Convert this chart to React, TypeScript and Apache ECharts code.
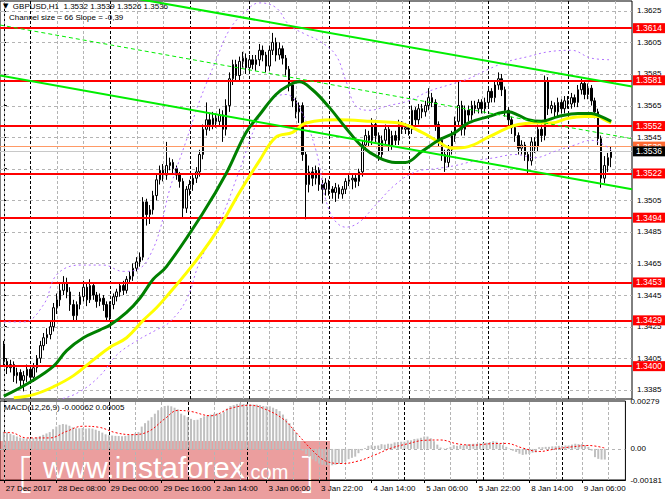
import React, { useEffect, useRef } from "react";
import * as echarts from "echarts";

const FONT = "'Liberation Sans', Arial, sans-serif";

// ---- axis ticks / labels ----
const timeLabelIdx = [0, 16, 32, 48, 64, 80, 96, 112, 128, 144, 160, 176];
const timeLabels = ["27 Dec 2017", "28 Dec 08:00", "29 Dec 00:00", "29 Dec 16:00", "2 Jan 14:00", "3 Jan 06:00", "3 Jan 22:00", "4 Jan 14:00", "5 Jan 06:00", "5 Jan 22:00", "8 Jan 14:00", "9 Jan 06:00"];
const priceTicks = [1.3385, 1.3405, 1.3425, 1.3445, 1.3465, 1.3485, 1.3505, 1.3525, 1.3545, 1.3565, 1.3585, 1.3605, 1.3625];
const priceLabels = [1.3385, 1.3405, 1.3425, 1.3445, 1.3465, 1.3485, 1.3505, 1.3545, 1.3565, 1.3585, 1.3605, 1.3625];
const macdTicks = [-0.00181, 0, 0.00279];
const gridCols = [0, 8, 16, 24, 32, 40, 48, 56, 64, 72, 80, 88, 96, 104, 112, 120, 128, 136, 144, 152, 160, 168, 176, 184];
const daySeparators = [8, 32, 56, 74, 98, 122, 146, 170];

// ---- horizontal levels ----
const levels = [1.3614, 1.3581, 1.3552, 1.3522, 1.3494, 1.3453, 1.3429, 1.3400];
const askPrice = 1.3539;
const bidPrice = 1.3536;

// ---- GBPUSD H1 candles: [open, high, low, close] ----
const candles: number[][] = [
  [1.3413, 1.3416, 1.3400, 1.3403], [1.3403, 1.3405, 1.3395, 1.3399], [1.3399, 1.3404, 1.3396, 1.3401], [1.3401, 1.3403, 1.3390, 1.3394],
  [1.3394, 1.3399, 1.3389, 1.3396], [1.3396, 1.3398, 1.3386, 1.3391], [1.3391, 1.3397, 1.3384, 1.3394], [1.3394, 1.3401, 1.3390, 1.3398],
  [1.3398, 1.3400, 1.3389, 1.3393], [1.3393, 1.3402, 1.3390, 1.3399], [1.3399, 1.3407, 1.3396, 1.3405], [1.3405, 1.3416, 1.3402, 1.3413],
  [1.3413, 1.3421, 1.3410, 1.3418], [1.3418, 1.3424, 1.3414, 1.3420], [1.3420, 1.3428, 1.3417, 1.3425], [1.3425, 1.3440, 1.3422, 1.3437],
  [1.3437, 1.3446, 1.3433, 1.3442], [1.3442, 1.3452, 1.3438, 1.3448], [1.3448, 1.3457, 1.3445, 1.3453], [1.3453, 1.3456, 1.3443, 1.3447],
  [1.3447, 1.3450, 1.3435, 1.3439], [1.3439, 1.3442, 1.3428, 1.3432], [1.3432, 1.3441, 1.3429, 1.3439], [1.3439, 1.3447, 1.3436, 1.3444],
  [1.3444, 1.3454, 1.3441, 1.3450], [1.3450, 1.3452, 1.3438, 1.3442], [1.3442, 1.3455, 1.3440, 1.3451], [1.3451, 1.3453, 1.3442, 1.3445],
  [1.3445, 1.3447, 1.3437, 1.3441], [1.3441, 1.3446, 1.3438, 1.3443], [1.3443, 1.3445, 1.3435, 1.3439], [1.3439, 1.3441, 1.3428, 1.3431],
  [1.3431, 1.3441, 1.3429, 1.3439], [1.3439, 1.3446, 1.3436, 1.3444], [1.3444, 1.3449, 1.3441, 1.3447], [1.3447, 1.3453, 1.3444, 1.3451],
  [1.3451, 1.3454, 1.3445, 1.3448], [1.3448, 1.3457, 1.3446, 1.3455], [1.3455, 1.3460, 1.3452, 1.3457], [1.3457, 1.3465, 1.3454, 1.3462],
  [1.3462, 1.3469, 1.3460, 1.3466], [1.3466, 1.3472, 1.3463, 1.3469], [1.3469, 1.3507, 1.3467, 1.3504], [1.3504, 1.3506, 1.3489, 1.3496],
  [1.3496, 1.3502, 1.3490, 1.3499], [1.3499, 1.3511, 1.3496, 1.3508], [1.3508, 1.3521, 1.3505, 1.3518], [1.3518, 1.3527, 1.3515, 1.3524],
  [1.3524, 1.3528, 1.3517, 1.3521], [1.3521, 1.3542, 1.3518, 1.3527], [1.3527, 1.3532, 1.3524, 1.3529], [1.3529, 1.3531, 1.3522, 1.3525],
  [1.3525, 1.3527, 1.3518, 1.3521], [1.3521, 1.3523, 1.3513, 1.3517], [1.3517, 1.3519, 1.3494, 1.3500], [1.3500, 1.3514, 1.3497, 1.3512],
  [1.3512, 1.3518, 1.3508, 1.3515], [1.3515, 1.3522, 1.3511, 1.3519], [1.3519, 1.3526, 1.3516, 1.3523], [1.3523, 1.3537, 1.3520, 1.3534],
  [1.3534, 1.3553, 1.3531, 1.3550], [1.3550, 1.3567, 1.3546, 1.3556], [1.3556, 1.3560, 1.3549, 1.3553], [1.3553, 1.3561, 1.3550, 1.3557],
  [1.3557, 1.3560, 1.3551, 1.3555], [1.3555, 1.3563, 1.3552, 1.3559], [1.3559, 1.3562, 1.3542, 1.3550], [1.3550, 1.3569, 1.3546, 1.3565],
  [1.3565, 1.3586, 1.3561, 1.3582], [1.3582, 1.3594, 1.3578, 1.3591], [1.3591, 1.3594, 1.3580, 1.3584], [1.3584, 1.3596, 1.3581, 1.3593],
  [1.3593, 1.3599, 1.3589, 1.3595], [1.3595, 1.3598, 1.3585, 1.3589], [1.3589, 1.3597, 1.3586, 1.3594], [1.3594, 1.3597, 1.3588, 1.3591],
  [1.3591, 1.3597, 1.3587, 1.3594], [1.3594, 1.3604, 1.3590, 1.3600], [1.3600, 1.3603, 1.3593, 1.3597], [1.3597, 1.3599, 1.3586, 1.3590],
  [1.3590, 1.3603, 1.3587, 1.3600], [1.3600, 1.3611, 1.3597, 1.3605], [1.3605, 1.3608, 1.3593, 1.3597], [1.3597, 1.3605, 1.3594, 1.3601],
  [1.3601, 1.3603, 1.3591, 1.3595], [1.3595, 1.3597, 1.3584, 1.3588], [1.3588, 1.3590, 1.3574, 1.3578], [1.3578, 1.3581, 1.3564, 1.3568],
  [1.3568, 1.3570, 1.3557, 1.3561], [1.3561, 1.3567, 1.3554, 1.3565], [1.3565, 1.3567, 1.3530, 1.3534], [1.3534, 1.3536, 1.3493, 1.3515],
  [1.3515, 1.3527, 1.3510, 1.3523], [1.3523, 1.3526, 1.3514, 1.3519], [1.3519, 1.3527, 1.3515, 1.3524], [1.3524, 1.3526, 1.3511, 1.3515],
  [1.3515, 1.3518, 1.3503, 1.3512], [1.3512, 1.3519, 1.3508, 1.3516], [1.3516, 1.3518, 1.3508, 1.3512], [1.3512, 1.3514, 1.3506, 1.3510],
  [1.3510, 1.3516, 1.3504, 1.3513], [1.3513, 1.3515, 1.3506, 1.3509], [1.3509, 1.3514, 1.3506, 1.3512], [1.3512, 1.3519, 1.3509, 1.3517],
  [1.3517, 1.3522, 1.3514, 1.3518], [1.3518, 1.3522, 1.3512, 1.3519], [1.3519, 1.3521, 1.3513, 1.3517], [1.3517, 1.3525, 1.3514, 1.3523],
  [1.3523, 1.3543, 1.3520, 1.3540], [1.3540, 1.3550, 1.3537, 1.3546], [1.3546, 1.3549, 1.3539, 1.3543], [1.3543, 1.3557, 1.3540, 1.3553],
  [1.3553, 1.3556, 1.3542, 1.3546], [1.3546, 1.3548, 1.3530, 1.3534], [1.3534, 1.3546, 1.3531, 1.3543], [1.3543, 1.3553, 1.3540, 1.3550],
  [1.3550, 1.3552, 1.3536, 1.3540], [1.3540, 1.3549, 1.3537, 1.3546], [1.3546, 1.3549, 1.3540, 1.3543], [1.3543, 1.3556, 1.3540, 1.3553],
  [1.3553, 1.3555, 1.3547, 1.3550], [1.3550, 1.3554, 1.3547, 1.3551], [1.3551, 1.3553, 1.3546, 1.3550], [1.3550, 1.3565, 1.3547, 1.3562],
  [1.3562, 1.3564, 1.3552, 1.3556], [1.3556, 1.3566, 1.3553, 1.3563], [1.3563, 1.3566, 1.3557, 1.3561], [1.3561, 1.3568, 1.3558, 1.3565],
  [1.3565, 1.3576, 1.3562, 1.3570], [1.3570, 1.3573, 1.3564, 1.3567], [1.3567, 1.3569, 1.3549, 1.3553], [1.3553, 1.3555, 1.3539, 1.3543],
  [1.3543, 1.3545, 1.3530, 1.3534], [1.3534, 1.3537, 1.3523, 1.3529], [1.3529, 1.3540, 1.3526, 1.3537], [1.3537, 1.3549, 1.3534, 1.3546],
  [1.3546, 1.3558, 1.3542, 1.3555], [1.3555, 1.3581, 1.3552, 1.3565], [1.3565, 1.3568, 1.3546, 1.3550], [1.3550, 1.3565, 1.3546, 1.3562],
  [1.3562, 1.3565, 1.3555, 1.3559], [1.3559, 1.3568, 1.3556, 1.3565], [1.3565, 1.3568, 1.3560, 1.3563], [1.3563, 1.3569, 1.3560, 1.3567],
  [1.3567, 1.3569, 1.3560, 1.3563], [1.3563, 1.3570, 1.3560, 1.3567], [1.3567, 1.3577, 1.3564, 1.3574], [1.3574, 1.3576, 1.3567, 1.3570],
  [1.3570, 1.3581, 1.3567, 1.3578], [1.3578, 1.3586, 1.3575, 1.3582], [1.3582, 1.3585, 1.3571, 1.3575], [1.3575, 1.3577, 1.3558, 1.3562],
  [1.3562, 1.3564, 1.3552, 1.3556], [1.3556, 1.3558, 1.3547, 1.3551], [1.3551, 1.3553, 1.3542, 1.3546], [1.3546, 1.3548, 1.3534, 1.3538],
  [1.3538, 1.3543, 1.3534, 1.3540], [1.3540, 1.3542, 1.3530, 1.3534], [1.3534, 1.3536, 1.3521, 1.3530], [1.3530, 1.3545, 1.3527, 1.3542],
  [1.3542, 1.3545, 1.3535, 1.3539], [1.3539, 1.3553, 1.3536, 1.3550], [1.3550, 1.3553, 1.3542, 1.3546], [1.3546, 1.3584, 1.3543, 1.3580],
  [1.3580, 1.3583, 1.3559, 1.3563], [1.3563, 1.3568, 1.3560, 1.3565], [1.3565, 1.3567, 1.3557, 1.3561], [1.3561, 1.3570, 1.3558, 1.3567],
  [1.3567, 1.3569, 1.3560, 1.3563], [1.3563, 1.3571, 1.3560, 1.3568], [1.3568, 1.3571, 1.3563, 1.3566], [1.3566, 1.3573, 1.3563, 1.3570],
  [1.3570, 1.3572, 1.3564, 1.3567], [1.3567, 1.3578, 1.3564, 1.3575], [1.3575, 1.3582, 1.3572, 1.3579], [1.3579, 1.3581, 1.3569, 1.3572],
  [1.3572, 1.3579, 1.3569, 1.3576], [1.3576, 1.3578, 1.3565, 1.3568], [1.3568, 1.3570, 1.3557, 1.3561], [1.3561, 1.3563, 1.3540, 1.3544],
  [1.3544, 1.3546, 1.3513, 1.3519], [1.3519, 1.3533, 1.3516, 1.3527], [1.3527, 1.3535, 1.3523, 1.3532], [1.3532, 1.3539, 1.3526, 1.3536],
];

// ---- moving averages [bar, price] ----
const greenMA = [
  [0, 1.3381], [8, 1.3390], [15, 1.3400], [19, 1.3410], [24, 1.3418], [29, 1.3423], [32, 1.3426], [37, 1.3434], [41, 1.3443],
  [45, 1.3455], [49, 1.3463], [60, 1.3497], [67, 1.3522], [73, 1.3548], [77, 1.3559], [82, 1.3572], [86, 1.3578], [89, 1.3580],
  [93, 1.3575], [98, 1.3564], [103, 1.3551], [108, 1.3539], [113, 1.3532], [118, 1.3529], [121, 1.3529], [126, 1.3536],
  [131, 1.3543], [136, 1.3548], [140, 1.3554], [146, 1.3558], [152, 1.3561], [155, 1.3559], [158, 1.3556], [162, 1.3555],
  [167, 1.3558], [173, 1.3560], [177, 1.3560], [180, 1.3558], [183, 1.3555],
];
const yellowMA = [
  [3, 1.3380], [9, 1.3382], [15, 1.3387], [21, 1.3394], [27, 1.3404], [32, 1.3412], [37, 1.3418], [42, 1.3429], [46, 1.3437],
  [49, 1.3444], [58, 1.3467], [65, 1.3488], [71, 1.3510], [77, 1.3530], [82, 1.3545], [87, 1.3548], [91, 1.3554], [101, 1.3556],
  [111, 1.3555], [119, 1.3554], [126, 1.3548], [131, 1.3542], [135, 1.3538], [140, 1.3539], [146, 1.3545], [152, 1.3551],
  [155, 1.3553], [159, 1.3554], [165, 1.3554], [170, 1.3557], [175, 1.3558], [179, 1.3558], [181, 1.3556], [183, 1.3554],
];

// ---- envelope bands [bar, price] ----
const bandUpper = [
  [0, 1.3428], [6, 1.3428], [12, 1.3439], [16, 1.3458], [23, 1.3464], [30, 1.3464], [36, 1.3460], [41, 1.3462], [44, 1.3470],
  [47, 1.3486], [50, 1.3512], [55, 1.3543], [59, 1.3568], [64, 1.3594], [68, 1.3613], [73, 1.3625], [77, 1.3630], [82, 1.3627],
  [86, 1.3616], [91, 1.3610], [95, 1.3606], [100, 1.3597], [103, 1.3581], [106, 1.3565], [110, 1.3562], [116, 1.3565],
  [122, 1.3568], [128, 1.3574], [134, 1.3578], [140, 1.3582], [146, 1.3588], [152, 1.3593], [158, 1.3596], [164, 1.3599],
  [171, 1.3600], [177, 1.3595], [183, 1.3594],
];
const bandLower = [
  [0, 1.3372], [8, 1.3375], [17, 1.3379], [23, 1.3384], [29, 1.3394], [34, 1.3407], [40, 1.3416], [46, 1.3423], [50, 1.3428],
  [55, 1.3442], [59, 1.3466], [65, 1.3491], [71, 1.3524], [76, 1.3553], [80, 1.3568], [85, 1.3572], [89, 1.3564], [94, 1.3537],
  [98, 1.3499], [103, 1.3488], [107, 1.3491], [112, 1.3502], [118, 1.3515], [124, 1.3523], [130, 1.3525], [136, 1.3527],
  [142, 1.3530], [148, 1.3532], [154, 1.3534], [160, 1.3532], [166, 1.3536], [172, 1.3540], [177, 1.3543], [183, 1.3537],
];

// ---- regression channel (start, end prices) ----
const channelUpper = [1.3648, 1.3577];
const channelMid = [1.3616, 1.3544];
const channelLower = [1.3584, 1.3512];

// ---- MACD(12,26,9) main (histogram) and signal ----
const macd = [
  0.00100, 0.00095, 0.00088, 0.00080, 0.00072, 0.00066, 0.00062, 0.00060, 0.00060, 0.00062,
  0.00068, 0.00075, 0.00082, 0.00090, 0.00098, 0.00115, 0.00130, 0.00140, 0.00145, 0.00142,
  0.00135, 0.00125, 0.00120, 0.00120, 0.00122, 0.00118, 0.00120, 0.00118, 0.00112, 0.00105,
  0.00095, 0.00085, 0.00080, 0.00078, 0.00076, 0.00075, 0.00074, 0.00076, 0.00080, 0.00085,
  0.00090, 0.00098, 0.00130, 0.00150, 0.00165, 0.00185, 0.00205, 0.00225, 0.00240, 0.00250,
  0.00252, 0.00248, 0.00240, 0.00230, 0.00205, 0.00195, 0.00185, 0.00175, 0.00168, 0.00170,
  0.00180, 0.00190, 0.00195, 0.00200, 0.00205, 0.00208, 0.00205, 0.00215, 0.00235, 0.00250,
  0.00255, 0.00262, 0.00265, 0.00262, 0.00262, 0.00260, 0.00258, 0.00258, 0.00255, 0.00250,
  0.00248, 0.00248, 0.00240, 0.00232, 0.00220, 0.00200, 0.00175, 0.00150, 0.00120, 0.00095,
  0.00045, -0.00010, -0.00030, -0.00045, -0.00060, -0.00072, -0.00085, -0.00092, -0.00095, -0.00095,
  -0.00095, -0.00092, -0.00088, -0.00082, -0.00075, -0.00060, -0.00052, -0.00045, -0.00025,
  -0.00008, 0.00005, 0.00018, 0.00022, 0.00018, 0.00020, 0.00028, 0.00025, 0.00030, 0.00030,
  0.00038, 0.00040, 0.00042, 0.00042, 0.00050, 0.00050, 0.00058, 0.00060, 0.00065, 0.00072,
  0.00072, 0.00062, 0.00045, 0.00025, 0.00008, 0.00002, 0.00005, 0.00012, 0.00022, 0.00018,
  0.00022, 0.00022, 0.00026, 0.00028, 0.00030, 0.00030, 0.00032, 0.00036, 0.00036, 0.00040,
  0.00045, 0.00042, 0.00032, 0.00022, 0.00012, 0.00002, -0.00010, -0.00018, -0.00028, -0.00035,
  -0.00032, -0.00030, -0.00022, -0.00020, 0.00010, 0.00010, 0.00012, 0.00012, 0.00015, 0.00015,
  0.00018, 0.00018, 0.00020, 0.00020, 0.00025, 0.00030, 0.00028, 0.00028, 0.00022, 0.00012,
  -0.00010, -0.00048, -0.00058, -0.00062, -0.00062,
];
const macdSignal = [
  [0, 0.00095], [2, 0.00095], [7, 0.00064], [14, 0.00064], [19, 0.00101], [24, 0.00132], [29, 0.00126], [34, 0.00095],
  [39, 0.00083], [44, 0.00101], [49, 0.00175], [53, 0.00224], [57, 0.00218], [63, 0.00193], [69, 0.00236], [75, 0.00254],
  [79, 0.00236], [85, 0.00175], [89, 0.00095], [94, -0.00009], [98, -0.00070], [103, -0.00085], [108, -0.00070],
  [113, -0.00035], [118, 0.00005], [123, 0.00030], [128, 0.00050], [133, 0.00052], [138, 0.00030], [143, 0.00022],
  [148, 0.00030], [153, 0.00032], [158, 0.00005], [163, -0.00015], [168, 0.00000], [173, 0.00012], [178, 0.00020], [183, 0.00005],
];

// layout constants
const XMIN = -1.145;
const XMAX = 189.27;
const YMIN = 1.33792;
const YMAX = 1.36312;
const MMIN = -0.00181;
const MMAX = 0.00279;

export default function App() {
  const ref = useRef<HTMLDivElement>(null);

  useEffect(() => {
    if (!ref.current) return;
    const chart = echarts.init(ref.current, undefined, { renderer: "svg" });

    const labelMap: Record<number, string> = {};
    timeLabelIdx.forEach((v, k) => (labelMap[v] = timeLabels[k]));

    const crisp = (v: number) => Math.round(v) + 0.5;

    // vertical grid lines: data item [x, yFrom, yTo]
    const vGrid = (axis: number, cols: number[], lo: number, hi: number, color: string, z: number) => ({
      type: "custom", xAxisIndex: axis, yAxisIndex: axis, z, silent: true, clip: false,
      encode: { x: 0, y: [1, 2] },
      data: cols.map((c) => [c, lo, hi]),
      renderItem: (_p: any, api: any) => {
        const a = api.coord([api.value(0), api.value(1)]);
        const b = api.coord([api.value(0), api.value(2)]);
        return {
          type: "line",
          shape: { x1: crisp(a[0]), y1: a[1], x2: crisp(b[0]), y2: b[1] },
          style: { stroke: color, lineWidth: 1, lineDash: [3, 2], fill: null, opacity: 1 },
        };
      },
    });
    // horizontal grid lines: data item [xFrom, xTo, y]
    const hGrid = (axis: number, vals: number[], color: string, z: number) => ({
      type: "custom", xAxisIndex: axis, yAxisIndex: axis, z, silent: true, clip: false,
      encode: { x: [0, 1], y: 2 },
      data: vals.map((v) => [XMIN, XMAX, v]),
      renderItem: (_p: any, api: any) => {
        const a = api.coord([api.value(0), api.value(2)]);
        const b = api.coord([api.value(1), api.value(2)]);
        return {
          type: "line",
          shape: { x1: a[0], y1: crisp(a[1]), x2: b[0], y2: crisp(b[1]) },
          style: { stroke: color, lineWidth: 1, lineDash: [3, 3], fill: null, opacity: 1 },
        };
      },
    });

    const levelLabel = (bg: string) => ({
      show: true,
      position: "end",
      distance: 1,
      formatter: (p: any) => Number(p.value).toFixed(4),
      color: "#ffffff",
      backgroundColor: bg,
      padding: [1, 3, 0, 3],
      lineHeight: 9,
      fontSize: 8.5,
      fontFamily: FONT,
    });

    const option: any = {
      animation: false,
      backgroundColor: "#ffffff",
      title: [
        {
          text: "{a|▼}  GBPUSD,H1  1.3532 1.3539 1.3526 1.3536",
          left: 3, top: 2, padding: 0,
          textStyle: { fontSize: 8, fontWeight: "normal", color: "#000", fontFamily: FONT, rich: { a: { fontSize: 7, color: "#000", fontFamily: "'DejaVu Sans', sans-serif" } } },
        },
        {
          text: "Channel size = 66 Slope = -0,39",
          left: 9, top: 13, padding: 0,
          textStyle: { fontSize: 8, fontWeight: "normal", color: "#000", fontFamily: FONT },
        },
        {
          text: "MACD(12,26,9) -0.00062 0.00005",
          left: 4, top: 403, padding: 0,
          textStyle: { fontSize: 8, fontWeight: "normal", color: "#000", fontFamily: FONT },
        },
      ],
      grid: [
        { left: 0, top: 1, width: 632, height: 398, show: true, borderColor: "#000", borderWidth: 1, backgroundColor: "transparent", z: 0 },
        { left: 0, top: 401, width: 632, height: 79, show: true, borderColor: "#000", borderWidth: 1, backgroundColor: "transparent", z: 0 },
      ],
      xAxis: [
        {
          type: "value", gridIndex: 0, min: XMIN, max: XMAX,
          axisLine: { show: false }, axisTick: { show: false }, axisLabel: { show: false }, splitLine: { show: false },
        },
        {
          type: "value", gridIndex: 1, min: XMIN, max: XMAX,
          axisLine: { show: true, onZero: false, lineStyle: { color: "#000" } },
          axisTick: { show: true, customValues: timeLabelIdx, length: 3, inside: false, lineStyle: { color: "#000" } },
          axisLabel: {
            show: true, customValues: timeLabelIdx, formatter: (v: number) => labelMap[v] ?? "",
            align: "left", margin: 4, padding: [0, 0, 0, 2], fontSize: 8, color: "#000", fontFamily: FONT, hideOverlap: false,
          },
          splitLine: { show: false },
        },
      ],
      yAxis: [
        {
          type: "value", gridIndex: 0, position: "right", min: YMIN, max: YMAX, scale: true,
          axisLine: { show: true, lineStyle: { color: "#000" } },
          axisTick: { show: true, customValues: priceTicks, length: 3, lineStyle: { color: "#000" } },
          axisLabel: {
            show: true, customValues: priceLabels, formatter: (v: number) => v.toFixed(4),
            margin: 5, fontSize: 8, color: "#000", fontFamily: FONT, hideOverlap: false,
          },
          splitLine: { show: false },
        },
        {
          type: "value", gridIndex: 1, position: "right", min: MMIN, max: MMAX,
          axisLine: { show: true, lineStyle: { color: "#000" } },
          axisTick: { show: true, customValues: macdTicks, length: 3, lineStyle: { color: "#000" } },
          axisLabel: {
            show: true, customValues: macdTicks, showMinLabel: true, showMaxLabel: true,
            formatter: (v: number) => (v === 0 ? "0.00" : v.toFixed(5)),
            margin: 5, fontSize: 8, color: "#000", fontFamily: FONT, hideOverlap: false,
          },
          splitLine: { show: false },
        },
      ],
      series: [
        // grid lines
        hGrid(0, priceTicks, "#b4b4b4", 3),
        vGrid(0, gridCols, YMIN, YMAX, "#b4b4b4", 3),
        vGrid(0, daySeparators, YMIN, YMAX, "#000000", 3),
        hGrid(1, [0], "#b4b4b4", 3),
        vGrid(1, gridCols, MMIN, MMAX, "#b4b4b4", 3),
        vGrid(1, daySeparators, MMIN, MMAX, "#000000", 3),
        // candles
        {
          type: "candlestick", xAxisIndex: 0, yAxisIndex: 0, z: 4,
          dimensions: ["x", "open", "close", "lowest", "highest"],
          encode: { x: "x", y: ["open", "close", "lowest", "highest"] },
          data: candles.map((c, i) => [i, c[0], c[3], c[2], c[1]]),
          barWidth: 2,
          itemStyle: { color: "#ffffff", color0: "#000000", borderColor: "#000000", borderColor0: "#000000", borderWidth: 1 },
        },
        // envelope bands
        ...[bandUpper, bandLower].map((b) => ({
          type: "line", xAxisIndex: 0, yAxisIndex: 0, data: b, smooth: 0.4, symbol: "none", z: 5, silent: true,
          lineStyle: { color: "#b070ff", width: 1, type: [2, 3] },
        })),
        // moving averages
        {
          type: "line", xAxisIndex: 0, yAxisIndex: 0, data: yellowMA, smooth: 0.4, symbol: "none", z: 6, silent: true,
          lineStyle: { color: "#ffff00", width: 3 },
        },
        {
          type: "line", xAxisIndex: 0, yAxisIndex: 0, data: greenMA, smooth: 0.4, symbol: "none", z: 7, silent: true,
          lineStyle: { color: "#008000", width: 3 },
        },
        // channel
        ...[channelUpper, channelLower].map((c) => ({
          type: "line", xAxisIndex: 0, yAxisIndex: 0, data: [[XMIN, c[0]], [XMAX, c[1]]], symbol: "none", z: 8, silent: true,
          lineStyle: { color: "#00ee00", width: 2 },
        })),
        {
          type: "line", xAxisIndex: 0, yAxisIndex: 0, data: [[XMIN, channelMid[0]], [XMAX, channelMid[1]]], symbol: "none", z: 8, silent: true,
          lineStyle: { color: "#00ee00", width: 1, type: [4, 3] },
        },
        // levels + price lines
        {
          type: "line", xAxisIndex: 0, yAxisIndex: 0, data: [[0, YMIN]], symbol: "none", lineStyle: { opacity: 0 }, z: 9, silent: true, clip: false,
          markLine: {
            silent: true, symbol: "none", precision: 6,
            data: [
              ...levels.map((p) => ({ yAxis: p, lineStyle: { color: "#ff0000", width: 2, type: "solid" }, label: levelLabel("#ff0000") })),
              { yAxis: askPrice, lineStyle: { color: "#ff9a66", width: 1, type: "solid" }, label: levelLabel("#ff6a33") },
              { yAxis: bidPrice, lineStyle: { color: "#c8c8c8", width: 1, type: "solid" }, label: levelLabel("#000000") },
            ],
          },
        },
        // MACD
        {
          type: "bar", xAxisIndex: 1, yAxisIndex: 1, z: 4, silent: true,
          data: macd.map((v, i) => [i, v]), barWidth: 2,
          itemStyle: { color: "#c0c0c0" },
        },
        {
          type: "line", xAxisIndex: 1, yAxisIndex: 1, data: macdSignal, smooth: 0.4, symbol: "none", z: 5, silent: true,
          lineStyle: { color: "#ff0000", width: 1, type: [2, 2] },
        },
      ],
      graphic: [
        {
          type: "group", z: 100,
          children: [
            { type: "rect", shape: { x: 0, y: 441, width: 330, height: 58 }, style: { fill: "rgba(210,40,40,0.45)" } },
            { type: "text", x: 18, y: 448, style: { text: "[", fill: "#ffffff", font: "300 42px 'Open Sans', sans-serif" } },
            { type: "text", x: 301, y: 448, style: { text: "]", fill: "#ffffff", font: "300 42px 'Open Sans', sans-serif" } },
            { type: "text", x: 43, y: 452, style: { text: "www.instaforex", fill: "#ffffff", font: "30px 'Liberation Sans', Arial, sans-serif" } },
            { type: "text", x: 245, y: 462, style: { text: ".com", fill: "#ffffff", font: "20px 'Liberation Sans', Arial, sans-serif" } },
          ],
        },
      ],
    };

    chart.setOption(option);
    return () => chart.dispose();
  }, []);

  return <div ref={ref} style={{ position: "absolute", left: 0, top: 0, width: 665, height: 499, background: "#fff" }} />;
}
